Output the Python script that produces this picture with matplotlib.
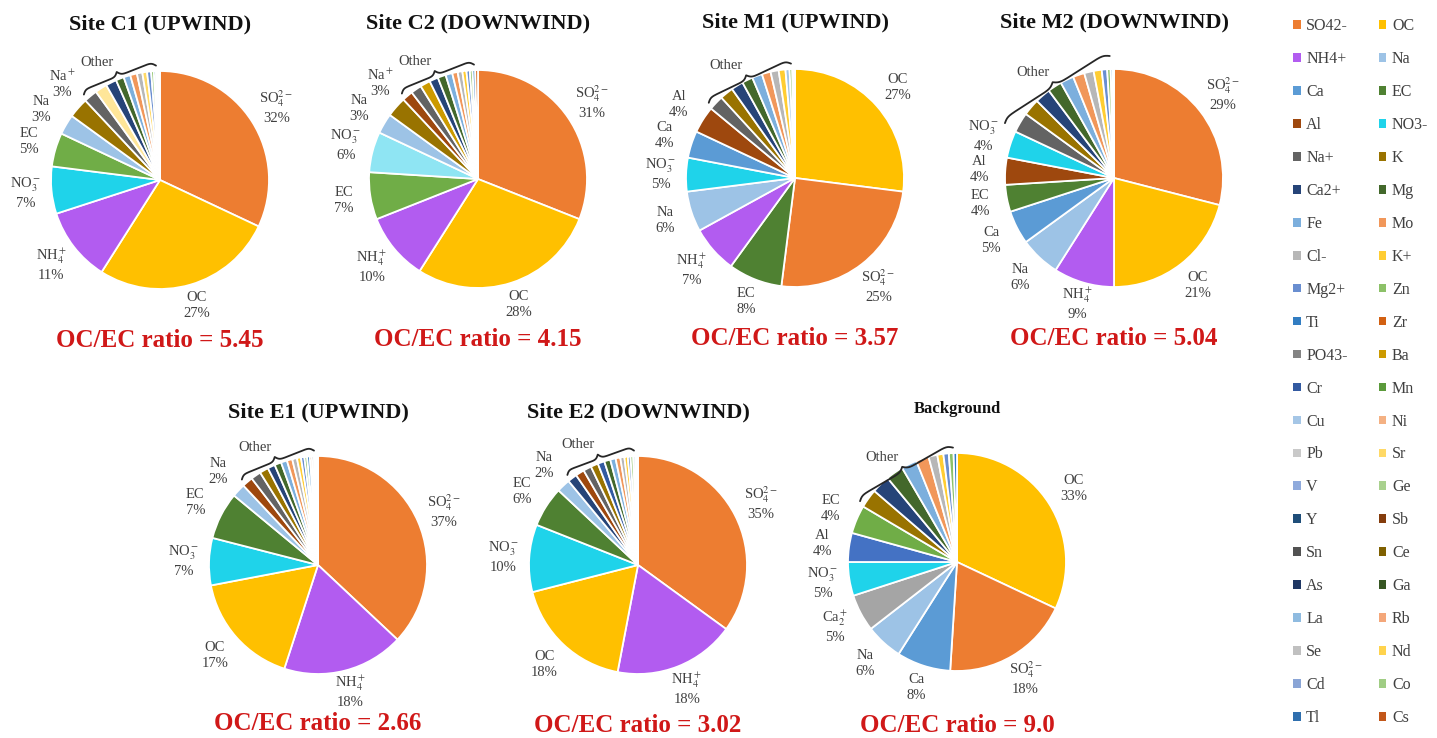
import numpy as np
import matplotlib
matplotlib.use('Agg')
import matplotlib.pyplot as plt
from matplotlib.patches import Patch

plt.rcParams['font.family'] = ['Liberation Serif', 'DejaVu Serif']
plt.rcParams['mathtext.fontset'] = 'stix'

W, H = 1437, 738
R = 109  # pie radius in px

# legend entries (row-wise, two columns)
legend_names = ['SO42-', 'OC', 'NH4+', 'Na', 'Ca', 'EC', 'Al', 'NO3-', 'Na+', 'K',
                'Ca2+', 'Mg', 'Fe', 'Mo', 'Cl-', 'K+', 'Mg2+', 'Zn', 'Ti', 'Zr',
                'PO43-', 'Ba', 'Cr', 'Mn', 'Cu', 'Ni', 'Pb', 'Sr', 'V', 'Ge',
                'Y', 'Sb', 'Sn', 'Ce', 'As', 'Ga', 'La', 'Rb', 'Se', 'Nd',
                'Cd', 'Co', 'Tl', 'Cs']
legend_colors = ['#ED7D31', '#FFC000', '#B25CF0', '#9DC3E6', '#5B9BD5', '#4F8132', '#9E480E', '#1FD3EA', '#636363', '#997300',
                 '#264478', '#43682B', '#7CAFDD', '#F1975A', '#B7B7B7', '#FFCD33', '#698ED0', '#8CC168', '#327DC2', '#D26012',
                 '#848484', '#CC9A00', '#335AA1', '#5B9A3B', '#A5C6E6', '#F4B183', '#C9C9C9', '#FFD966', '#8FAADC', '#A9D18E',
                 '#1F4E79', '#843C0C', '#525252', '#7F6000', '#203864', '#375623', '#8FBBE0', '#F4A77A', '#C0C0C0', '#FFD34D',
                 '#8AA5D6', '#A0CD84', '#2F6FAE', '#C2571A']
COLORS = dict(zip(legend_names, legend_colors))
# lighter / alternative shades used in some of the pies
COLORS.update({'EC*': '#70AD47', 'NO3-*': '#8FE5F3', 'Ca2+*': '#A5A5A5', 'Al*': '#4472C4', 'K+*': '#FFE699'})

SO4 = r'SO$_4^{2-}$'
NH4 = r'NH$_4^+$'
NO3 = r'NO$_3^-$'
NAP = r'Na$^+$'
CA2 = r'Ca$_2^+$'

# Site C1
c1_names = ['SO42-', 'OC', 'NH4+', 'NO3-', 'EC*', 'Na', 'K', 'Na+', 'K+*', 'Ca2+', 'Mg', 'Fe', 'Mo', 'Cl-', 'Sr', 'Mg2+', 'Zn', 'Ti', 'Zr', 'Ba', 'Cr']
c1_vals = [32, 27, 11, 7, 5, 3, 3, 2.0, 1.8, 1.6, 1.2, 1.0, 1.0, 0.8, 0.7, 0.6, 0.4, 0.3, 0.2, 0.2, 0.2]
c1_labels = [SO4 + '\n32%', 'OC\n27%', NH4 + '\n11%', NO3 + '\n7%', 'EC\n5%', 'Na\n3%', NAP + '\n3%']

# Site C2
c2_names = ['SO42-', 'OC', 'NH4+', 'EC*', 'NO3-*', 'Na', 'K', 'Al', 'Na+', 'Ba', 'Ca2+', 'Mg', 'Fe', 'Mo', 'Cl-', 'K+', 'Mg2+', 'Zn', 'Ti', 'Zr']
c2_vals = [31, 28, 10, 7, 6, 3, 3, 1.6, 1.6, 1.5, 1.3, 1.2, 1.0, 0.8, 0.7, 0.6, 0.5, 0.4, 0.4, 0.4]
c2_labels = [SO4 + '\n31%', 'OC\n28%', NH4 + '\n10%', 'EC\n7%', NO3 + '\n6%', 'Na\n3%', NAP + '\n3%']

# Site M1
m1_names = ['OC', 'SO42-', 'EC', 'NH4+', 'Na', 'NO3-', 'Ca', 'Al', 'Na+', 'K', 'Ca2+', 'Mg', 'Fe', 'Mo', 'Cl-', 'K+', 'Cu', 'Zn', 'Ti', 'Zr']
m1_vals = [27, 25, 8, 7, 6, 5, 4, 4, 2.2, 2.0, 1.8, 1.6, 1.5, 1.3, 1.2, 1.0, 0.6, 0.4, 0.2, 0.2]
m1_labels = ['OC\n27%', SO4 + '\n25%', 'EC\n8%', NH4 + '\n7%', 'Na\n6%', NO3 + '\n5%', 'Ca\n4%', 'Al\n4%']

# Site M2
m2_names = ['SO42-', 'OC', 'NH4+', 'Na', 'Ca', 'EC', 'Al', 'NO3-', 'Na+', 'K', 'Ca2+', 'Mg', 'Fe', 'Mo', 'Cl-', 'K+', 'Mg2+', 'Zn', 'Ti', 'Zr']
m2_vals = [29, 21, 9, 6, 5, 4, 4, 4, 3.0, 2.5, 2.3, 2.1, 2.0, 1.7, 1.4, 1.2, 0.8, 0.5, 0.3, 0.2]
m2_labels = [SO4 + '\n29%', 'OC\n21%', NH4 + '\n9%', 'Na\n6%', 'Ca\n5%', 'EC\n4%', 'Al\n4%', NO3 + '\n4%']

# Site E1
e1_names = ['SO42-', 'NH4+', 'OC', 'NO3-', 'EC', 'Na', 'Al', 'Na+', 'K', 'Ca2+', 'Mg', 'Fe', 'Mo', 'Cl-', 'K+', 'Mg2+', 'Zn', 'Ti', 'Zr', 'PO43-', 'Ba', 'Cr', 'Cu']
e1_vals = [37, 18, 17, 7, 7, 2, 1.6, 1.5, 1.3, 1.1, 1.0, 0.9, 0.8, 0.7, 0.6, 0.5, 0.4, 0.4, 0.3, 0.3, 0.2, 0.2, 0.2]
e1_labels = [SO4 + '\n37%', NH4 + '\n18%', 'OC\n17%', NO3 + '\n7%', 'EC\n7%', 'Na\n2%']

# Site E2
e2_names = ['SO42-', 'NH4+', 'OC', 'NO3-', 'EC', 'Na', 'Ca2+', 'Al', 'Na+', 'K', 'Cr', 'Mg', 'Fe', 'Mo', 'Cl-', 'K+', 'Mg2+', 'Zn', 'Ti', 'Zr', 'PO43-']
e2_vals = [35, 18, 18, 10, 6, 2, 1.4, 1.3, 1.2, 1.1, 1.0, 0.9, 0.8, 0.7, 0.6, 0.5, 0.4, 0.4, 0.3, 0.2, 0.2]
e2_labels = [SO4 + '\n35%', NH4 + '\n18%', 'OC\n18%', NO3 + '\n10%', 'EC\n6%', 'Na\n2%']

# Background
bg_names = ['OC', 'SO42-', 'Ca', 'Na', 'Ca2+*', 'NO3-', 'Al*', 'EC*', 'K', 'Ca2+', 'Mg', 'Fe', 'Mo', 'Cl-', 'K+', 'Mg2+', 'Zn', 'Ti']
bg_vals = [32, 19, 8, 5.5, 5.5, 5, 4.3, 4.2, 2.8, 2.7, 2.6, 2.3, 1.9, 1.3, 0.9, 0.8, 0.7, 0.5]
bg_labels = ['OC\n33%', SO4 + '\n18%', 'Ca\n8%', 'Na\n6%', CA2 + '\n5%', NO3 + '\n5%', 'Al\n4%', 'EC\n4%']

fig = plt.figure(figsize=(W / 100, H / 100), dpi=100)


def brace(ax, a1, a2, r, h=0.08, k=45):
    # curly brace along the chord between two angles (deg), bulging outward
    p1 = r * np.array([np.cos(np.deg2rad(a1)), np.sin(np.deg2rad(a1))])
    p2 = r * np.array([np.cos(np.deg2rad(a2)), np.sin(np.deg2rad(a2))])
    ch = p2 - p1
    u = ch / np.linalg.norm(ch)
    nrm = np.array([-u[1], u[0]])
    mid = (p1 + p2) / 2
    if np.dot(nrm, mid) < 0:
        nrm = -nrm
    t = np.linspace(0, 1, 201)
    half = t[:101]
    yh = 1 / (1 + np.exp(-k * half)) + 1 / (1 + np.exp(-k * (half - 0.5))) - 0.5
    y = np.concatenate([yh, yh[-2::-1]])
    pts = p1[None, :] + t[:, None] * ch[None, :] + (h * y)[:, None] * nrm[None, :]
    ax.plot(pts[:, 0], pts[:, 1], color='#262626', lw=1.3, clip_on=False, solid_capstyle='round')
    return mid + h * nrm


def draw_site(cx, cy, title, names, vals, labels, ratio, title_y=1.43, title_size=16,
              ratio_y=-1.47, brace_r=1.05, min_sep=14):
    ax = fig.add_axes([(cx - R) / W, 1 - (cy + R) / H, 2 * R / W, 2 * R / H])
    wedges, _ = ax.pie(vals, colors=[COLORS[n] for n in names], startangle=90,
                       counterclock=False, wedgeprops=dict(edgecolor='white', linewidth=1.3))
    ax.set_xlim(-1, 1)
    ax.set_ylim(-1, 1)
    prev = None
    for w, lab in zip(wedges, labels):
        ang = (w.theta1 + w.theta2) / 2
        # keep neighbouring labels apart (angles decrease clockwise)
        if prev is not None and ang > prev - min_sep:
            ang = prev - min_sep
        prev = ang
        th = np.deg2rad(ang)
        c, s = np.cos(th), np.sin(th)
        d = 1.03 + 0.20 * abs(c) + 0.12 * abs(s)
        ax.text(d * c, d * s, lab, ha='center', va='center', fontsize=10.5,
                color='#404040', linespacing=1.3)
    n = len(labels)
    tip = brace(ax, wedges[n].theta2 - 1.5, wedges[-1].theta1 + 2, brace_r)
    ax.text(tip[0] - 0.03, tip[1] + 0.03, 'Other', ha='right', va='bottom',
            fontsize=10.5, color='#404040')
    ax.text(0, title_y, title, ha='center', va='center', fontsize=title_size,
            fontweight='bold', color='#111111')
    ax.text(0, ratio_y, 'OC/EC ratio = ' + ratio, ha='center', va='center',
            fontsize=18, fontweight='bold', color='#D01818')
    return ax


draw_site(160, 180, 'Site C1 (UPWIND)', c1_names, c1_vals, c1_labels, '5.45')
draw_site(478, 179, 'Site C2 (DOWNWIND)', c2_names, c2_vals, c2_labels, '4.15')
draw_site(795, 178, 'Site M1 (UPWIND)', m1_names, m1_vals, m1_labels, '3.57')
draw_site(1114, 178, 'Site M2 (DOWNWIND)', m2_names, m2_vals, m2_labels, '5.04', brace_r=1.12)
draw_site(318, 565, 'Site E1 (UPWIND)', e1_names, e1_vals, e1_labels, '2.66', title_y=1.40, ratio_y=-1.45)
draw_site(638, 565, 'Site E2 (DOWNWIND)', e2_names, e2_vals, e2_labels, '3.02', title_y=1.40, ratio_y=-1.47)
draw_site(957, 562, 'Background', bg_names, bg_vals, bg_labels, '9.0', title_y=1.40,
          title_size=12, ratio_y=-1.5)

# legend: matplotlib fills columns first, so split row-wise list into columns
handles = [Patch(facecolor=c, edgecolor='none') for c in legend_colors]
order = list(range(0, len(legend_names), 2)) + list(range(1, len(legend_names), 2))
leg = fig.legend([handles[i] for i in order], [legend_names[i] for i in order],
                 ncol=2, loc='upper left', bbox_to_anchor=(1287 / W, 1 - 12 / H),
                 frameon=False, fontsize=11.5, handlelength=0.45, handleheight=0.45,
                 handletextpad=0.35, labelspacing=1.06, columnspacing=1.95,
                 borderaxespad=0, labelcolor='#404040')

fig.savefig('out.png', dpi=100, facecolor='white')
